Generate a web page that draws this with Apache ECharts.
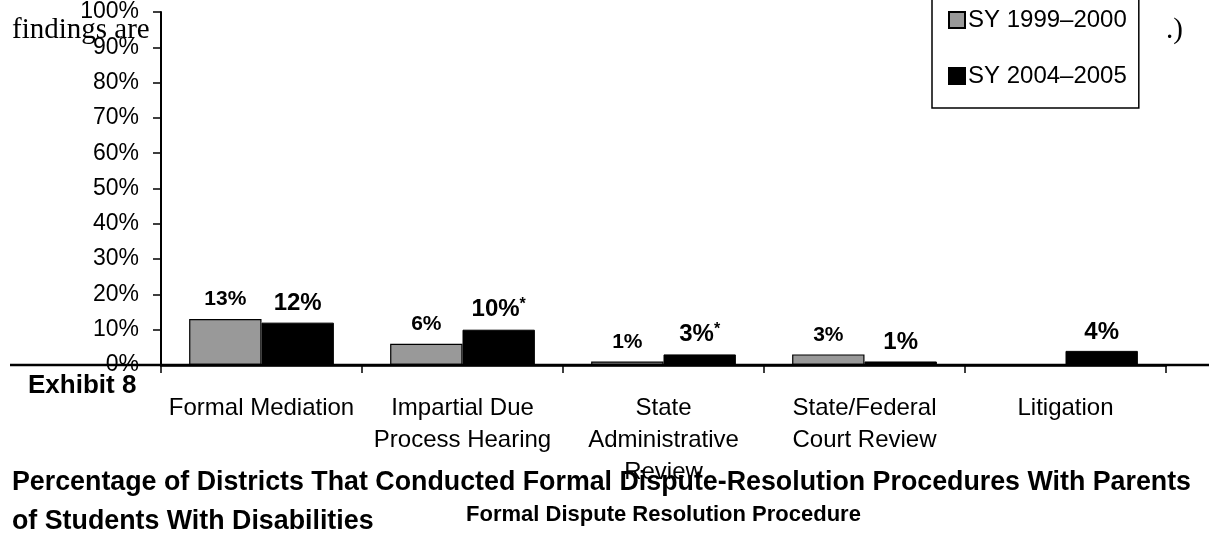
<!DOCTYPE html>
<html>
<head>
<meta charset="utf-8">
<script src="https://cdn.jsdelivr.net/npm/echarts@6/dist/echarts.min.js"></script>
<style>
  html, body { margin: 0; padding: 0; background: #fff; }
  #chart { width: 1209px; height: 535px; }
</style>
</head>
<body>
<div id="chart"></div>
<script>
// Dispute-resolution procedures, share of districts (%)
const categories = [
  'Formal Mediation',
  'Impartial Due\nProcess Hearing',
  'State\nAdministrative\nReview',
  'State/Federal\nCourt Review',
  'Litigation'
];
const seriesNames = ['SY 1999\u20132000', 'SY 2004\u20132005'];
const sy1999 = [13, 6, 1, 3, null];
const sy2004 = [12, 10, 3, 1, 4];
// statistically significant change between the two school years
const sy2004Significant = [false, true, true, false, false];

const FONT = '"Liberation Sans", Arial, Helvetica, sans-serif';
const SERIF = '"Liberation Serif", "Times New Roman", serif';

const chart = echarts.init(document.getElementById('chart'), null, { renderer: 'canvas' });

const option = {
  backgroundColor: '#ffffff',
  animation: false,
  textStyle: { fontFamily: FONT, color: '#000' },
  title: {
    text: 'Percentage of Districts That Conducted Formal Dispute-Resolution Procedures With Parents\nof Students With Disabilities',
    left: 7,
    top: 458,
    textStyle: { fontFamily: FONT, fontSize: 26.8, fontWeight: 'bold', color: '#000', lineHeight: 39 }
  },
  legend: {
    orient: 'vertical',
    left: 932,
    top: -22,
    z: 10,
    icon: 'rect',
    backgroundColor: '#ffffff',
    borderColor: '#000',
    borderWidth: 1.5,
    padding: [30, 12, 20, 16],
    itemWidth: 16,
    itemHeight: 16,
    itemGap: 32,
    textStyle: { fontFamily: FONT, fontSize: 24, color: '#000', padding: [0, 0, 0, -2] },
    data: seriesNames
  },
  grid: { left: 161, right: 43, top: 12, bottom: 170, containLabel: false },
  xAxis: {
    type: 'category',
    data: categories,
    name: 'Formal Dispute Resolution Procedure',
    nameLocation: 'middle',
    nameGap: 139,
    nameTextStyle: { fontFamily: FONT, fontSize: 22, fontWeight: 'bold', color: '#000' },
    axisLine: { show: true, lineStyle: { color: '#000', width: 2.5 } },
    axisTick: { show: true, length: 8, lineStyle: { color: '#000', width: 1.5 } },
    axisLabel: {
      interval: 0,
      margin: 27,
      fontFamily: FONT,
      fontSize: 24,
      lineHeight: 32,
      color: '#000'
    }
  },
  yAxis: {
    type: 'value',
    min: 0,
    max: 100,
    interval: 10,
    splitLine: { show: false },
    axisLine: { show: true, lineStyle: { color: '#000', width: 2 } },
    axisTick: { show: true, length: 8, lineStyle: { color: '#000', width: 1.5 } },
    axisLabel: {
      margin: 22,
      fontFamily: FONT,
      fontSize: 23,
      color: '#000',
      formatter: '{value}%'
    }
  },
  series: [
    {
      name: seriesNames[0],
      type: 'bar',
      data: sy1999,
      barGap: '0%',
      barCategoryGap: '28%',
      itemStyle: { color: '#999999', borderColor: '#000', borderWidth: 1.2 },
      label: {
        show: true,
        position: 'top',
        distance: 9,
        fontFamily: FONT,
        fontSize: 21,
        fontWeight: 'bold',
        color: '#000',
        formatter: p => p.value == null ? '' : p.value + '%'
      }
    },
    {
      name: seriesNames[1],
      type: 'bar',
      data: sy2004,
      barGap: '0%',
      barCategoryGap: '28%',
      itemStyle: { color: '#000000', borderColor: '#000', borderWidth: 1 },
      label: {
        show: true,
        position: 'top',
        distance: 7,
        fontFamily: FONT,
        fontSize: 24,
        fontWeight: 'bold',
        color: '#000',
        formatter: p => sy2004Significant[p.dataIndex]
          ? '{v|' + p.value + '%}{s|*}'
          : '{v|' + p.value + '%}',
        rich: {
          v: { fontFamily: FONT, fontSize: 24, fontWeight: 'bold', color: '#000' },
          s: { fontFamily: FONT, fontSize: 16, fontWeight: 'bold', color: '#000', padding: [0, 0, 10, 0] }
        }
      }
    }
  ]
};

chart.setOption(option);

// Running text of the surrounding page, the exhibit tag and the baseline rule
const baseY = chart.convertToPixel({ yAxisIndex: 0 }, 0);
chart.setOption({
  graphic: [
    {
      type: 'text', z: 0, left: 12, top: 16,
      style: { text: 'findings are', font: '29px ' + SERIF, fill: '#000' }
    },
    {
      type: 'text', z: 0, left: 1166, top: 16,
      style: { text: '.)', font: '29px ' + SERIF, fill: '#000' }
    },
    {
      type: 'text', z: 5, left: 28, top: 373,
      style: { text: 'Exhibit 8', font: 'bold 26px ' + FONT, fill: '#000' }
    },
    {
      type: 'line', z: 5,
      shape: { x1: 10, y1: baseY, x2: 1209, y2: baseY },
      style: { stroke: '#000', lineWidth: 2.5 }
    }
  ]
});
</script>
</body>
</html>
